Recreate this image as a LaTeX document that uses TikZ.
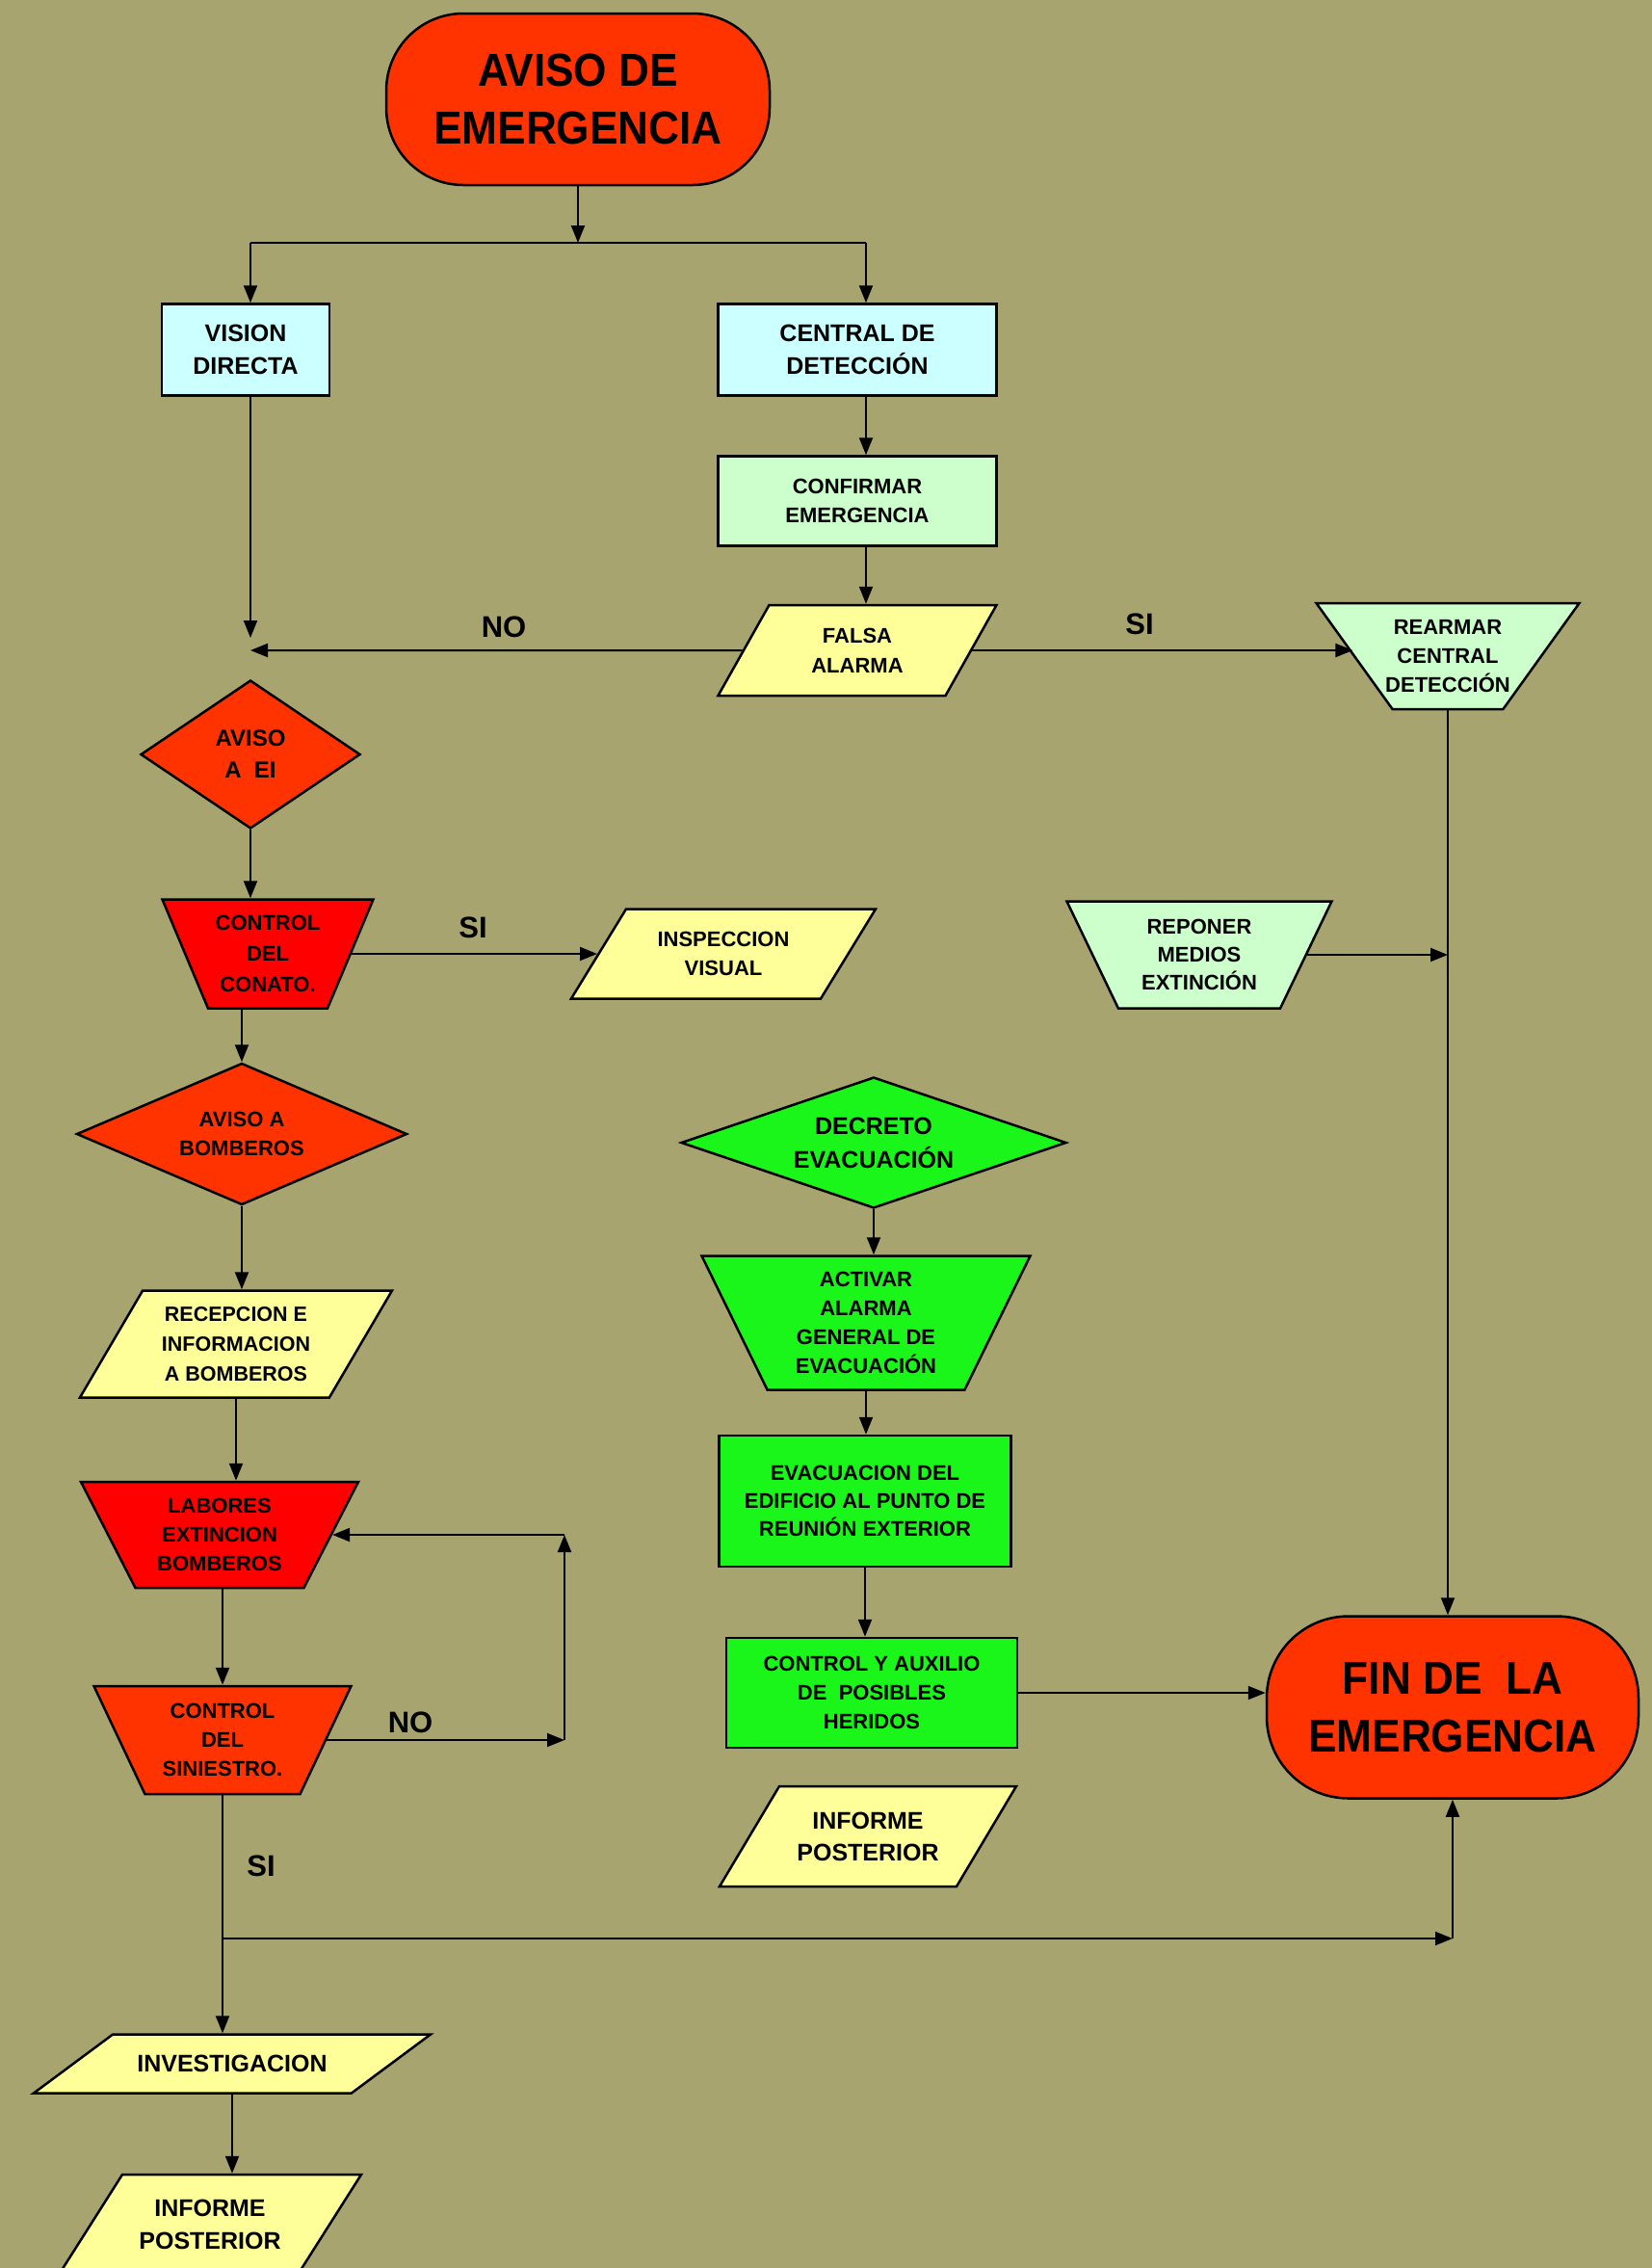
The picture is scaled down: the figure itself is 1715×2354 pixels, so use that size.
\documentclass[tikz,border=0pt]{standalone}
\usepackage{fontspec}
\setmainfont{Liberation Sans}
\newfontfamily\titulofont{Liberation Sans}[FakeStretch=0.92]
\usetikzlibrary{shapes.geometric,arrows.meta}

\definecolor{fondo}{HTML}{A8A46F}
\definecolor{rojizo}{HTML}{FF3300}
\definecolor{rojo}{HTML}{FF0000}
\definecolor{celeste}{HTML}{CCFFFF}
\definecolor{verdeclaro}{HTML}{CCFFCC}
\definecolor{amarillo}{HTML}{FFFF99}
\definecolor{verde}{HTML}{1AF51A}

% texto de altura fija: la altura fija la inclinacion de los lados
\newcommand{\rotulo}[3]{\parbox[c][#1pt][c]{#2pt}{\centering #3}}

\tikzset{
  bloque/.style={draw, line width=2.5pt, align=center, inner sep=0pt,
    font=\bfseries\fontsize{22}{30}\selectfont},
  terminal/.style={bloque, rectangle, rounded corners=80pt, fill=rojizo,
    font=\titulofont\bfseries\fontsize{48}{60}\selectfont},
  datos/.style 2 args={bloque, trapezium, trapezium left angle=#1,
    trapezium right angle=#2, trapezium stretches body, fill=amarillo},
  embudo/.style={bloque, trapezium, trapezium angle=#1,
    shape border rotate=180, trapezium stretches body},
  decision/.style={bloque, diamond, aspect=#1},
  flecha/.style={line width=2pt, -{Triangle[length=18pt,width=14pt]}},
  linea/.style={line width=2pt},
  etiqueta/.style={font=\bfseries\fontsize{31}{31}\selectfont}
}

\begin{document}
\begin{tikzpicture}[x=1pt, y=-1pt]

  % Fondo
  \fill[fondo] (0,0) rectangle (1715,2354);
  \useasboundingbox (0,0) rectangle (1715,2354);

  % Inicio
  \node[terminal, minimum width=398pt, minimum height=178pt] (aviso) at (600,103) {AVISO DE\\EMERGENCIA};

  % Deteccion
  \node[bloque, fill=celeste, minimum width=174pt, minimum height=95pt,
    font=\bfseries\fontsize{25}{34}\selectfont] (vision) at (255,363) {VISION\\DIRECTA};
  \node[bloque, fill=celeste, minimum width=289pt, minimum height=95pt,
    font=\bfseries\fontsize{25}{34}\selectfont] (central) at (890,363) {CENTRAL DE\\DETECCIÓN};
  \node[bloque, fill=verdeclaro, minimum width=289pt, minimum height=93pt] (confirmar) at (890,520) {CONFIRMAR\\EMERGENCIA};
  \node[datos={60.6}{119.4}, minimum width=289pt,
    font=\bfseries\fontsize{22}{31}\selectfont] (falsa) at (890,675) {\rotulo{94}{150}{FALSA\\ALARMA}};
  \node[embudo=54.3, fill=verdeclaro, inner xsep=-15pt, minimum width=273pt] (rearmar) at (1503,681) {\rotulo{110}{140}{REARMAR\\CENTRAL\\DETECCIÓN}};
  \node[embudo=64.3, fill=verdeclaro, minimum width=275pt,
    font=\bfseries\fontsize{22}{29}\selectfont] (reponer) at (1245,991) {\rotulo{111}{140}{REPONER\\MEDIOS\\EXTINCIÓN}};

  % Rama del conato
  \node[decision=1.5, fill=rojizo, minimum width=228pt, minimum height=154pt,
    font=\bfseries\fontsize{24}{33}\selectfont] (avisoei) at (260,783) {AVISO\\A~ EI};
  \node[embudo=67.2, fill=rojo, minimum width=219pt,
    font=\bfseries\fontsize{22}{32}\selectfont] (conato) at (278,990) {\rotulo{113}{115}{CONTROL\\DEL\\CONATO.}};
  \node[datos={58.5}{121.5}, minimum width=316pt] (inspeccion) at (751,990) {\rotulo{93}{160}{INSPECCION\\VISUAL}};
  \node[decision=2.3, fill=rojizo, minimum width=343pt, minimum height=147pt] (bomberos) at (251,1177) {AVISO A\\BOMBEROS};
  \node[datos={59.6}{120.4}, minimum width=324pt,
    font=\bfseries\fontsize{21.5}{31}\selectfont] (recepcion) at (245,1395) {\rotulo{111}{170}{RECEPCION E\\INFORMACION\\A BOMBEROS}};
  \node[embudo=62.8, fill=rojo, minimum width=288pt] (labores) at (228,1593) {\rotulo{110}{140}{LABORES\\EXTINCION\\BOMBEROS}};
  \node[embudo=64.7, fill=rojizo, minimum width=267pt] (siniestro) at (231,1806) {\rotulo{112}{140}{CONTROL\\DEL\\SINIESTRO.}};
  \node[datos={36.6}{143.4}, minimum width=412pt,
    font=\bfseries\fontsize{25}{34}\selectfont] (investigacion) at (241,2142) {\rotulo{61}{210}{INVESTIGACION}};
  \node[datos={57.6}{122.4}, minimum width=314pt,
    font=\bfseries\fontsize{25}{34}\selectfont] (informeb) at (218,2309) {\rotulo{104}{160}{INFORME\\POSTERIOR}};

  % Evacuacion
  \node[decision=2.9, fill=verde, minimum width=400pt, minimum height=136pt,
    font=\bfseries\fontsize{25}{35}\selectfont] (decreto) at (907,1186) {DECRETO\\EVACUACIÓN};
  \node[embudo=63.9, fill=verde, minimum width=341pt] (activar) at (899,1373) {\rotulo{139}{160}{ACTIVAR\\ALARMA\\GENERAL DE\\EVACUACIÓN}};
  \node[bloque, fill=verde, minimum width=303pt, minimum height=136pt,
    font=\bfseries\fontsize{22}{29}\selectfont] (evacuacion) at (898,1558) {EVACUACION DEL\\EDIFICIO AL PUNTO DE\\REUNIÓN EXTERIOR};
  \node[bloque, fill=verde, minimum width=302pt, minimum height=114pt] (auxilio) at (905,1757) {CONTROL Y AUXILIO\\DE~ POSIBLES\\HERIDOS};
  \node[datos={59.2}{120.8}, minimum width=308pt,
    font=\bfseries\fontsize{25}{33}\selectfont] (informea) at (901,1906) {\rotulo{104}{160}{INFORME\\POSTERIOR}};

  % Fin
  \node[terminal, rounded corners=85pt, minimum width=386pt, minimum height=189pt] (fin) at (1508,1772) {FIN DE~ LA\\EMERGENCIA};

  % Puntos de paso
  \coordinate (reparto) at (600,252);
  \coordinate (junta) at (260,675);
  \coordinate (colB) at (899,0);
  \coordinate (lazo) at (586,0);
  \coordinate (cruce) at (0,2012);

  % Conexiones superiores
  \draw[flecha] (aviso.south) -- (reparto);
  \draw[linea] (reparto -| junta) -- (reparto -| colB);
  \draw[flecha] (reparto -| junta) -- (vision.north -| junta);
  \draw[flecha] (reparto -| colB) -- (central.north -| colB);
  \draw[flecha] (central.south -| colB) -- (confirmar.north -| colB);
  \draw[flecha] (confirmar.south -| colB) -- (falsa.north -| colB);
  \draw[flecha] (vision.south -| junta) -- ([yshift=13pt]junta);
  \draw[flecha] (falsa.west) -- (junta);
  \draw[flecha] (falsa.east) -- (falsa.east -| rearmar.west);
  \draw[flecha] (rearmar.south) -- (rearmar.south |- fin.north);
  \draw[flecha] (reponer.east) -- (reponer.east -| rearmar.south);

  % Conato y bomberos
  \draw[flecha] (avisoei.south) -- (avisoei.south |- conato.north);
  \draw[flecha] (conato.east) -- (conato.east -| inspeccion.west);
  \draw[flecha] (conato.south -| bomberos.north) -- (bomberos.north);
  \draw[flecha] (bomberos.south) -- (bomberos.south |- recepcion.north);
  \draw[flecha] (recepcion.south) -- (recepcion.south |- labores.north);
  \draw[flecha] (siniestro.north |- labores.south) -- (siniestro.north);
  \draw[flecha] (siniestro.east) -- (siniestro.east -| lazo);
  \draw[flecha] (siniestro.east -| lazo) -- (lazo |- labores.east);
  \draw[flecha] (lazo |- labores.east) -- (labores.east);
  \draw[flecha] (siniestro.south) -- (siniestro.south |- investigacion.north);
  \draw[flecha] (siniestro.south |- cruce) -- (fin.south |- cruce);
  \draw[flecha] (fin.south |- cruce) -- (fin.south);
  \draw[flecha] (investigacion.south) -- (investigacion.south |- informeb.north);

  % Evacuacion
  \draw[flecha] (decreto.south) -- (decreto.south |- activar.north);
  \draw[flecha] (activar.south) -- (activar.south |- evacuacion.north);
  \draw[flecha] (evacuacion.south) -- (evacuacion.south |- auxilio.north);
  \draw[flecha] (auxilio.east) -- (auxilio.east -| fin.west);

  % Etiquetas
  \node[etiqueta] (no1) at (523,651) {NO};
  \node[etiqueta] (si1) at (1183,648) {SI};
  \node[etiqueta] (si2) at (491,963) {SI};
  \node[etiqueta] (no2) at (426,1788) {NO};
  \node[etiqueta] (si3) at (271,1937) {SI};

\end{tikzpicture}
\end{document}
